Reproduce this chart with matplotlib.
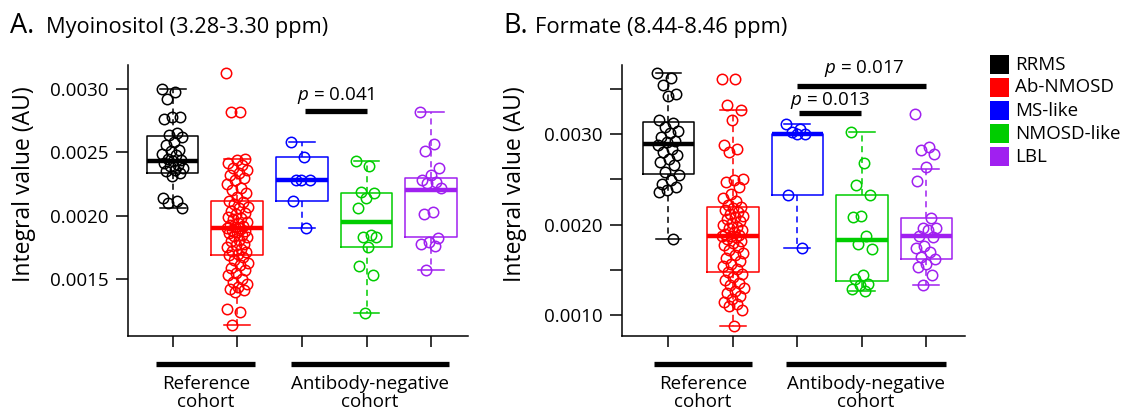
import numpy as np
import matplotlib
matplotlib.use("Agg")
import matplotlib.pyplot as plt
from matplotlib import transforms
from matplotlib.patches import Rectangle

plt.rcParams['font.family'] = ['Open Sans', 'DejaVu Sans']
plt.rcParams['mathtext.fontset'] = 'custom'
plt.rcParams['mathtext.it'] = 'Open Sans:italic'
plt.rcParams['mathtext.rm'] = 'Open Sans'

groups = ["RRMS", "Ab-NMOSD", "MS-like", "NMOSD-like", "LBL"]
colors = ["#000000", "#FF0000", "#0000FF", "#00CD00", "#A020F0"]

# A. myoinositol, points
myo_rrms = [0.00300, 0.00298, 0.00292, 0.00278, 0.00278, 0.00276, 0.00265, 0.00264,
            0.00262, 0.00258, 0.00256, 0.00252, 0.00251, 0.00249, 0.00248, 0.00245,
            0.00244, 0.00243, 0.00242, 0.00240, 0.00239, 0.00238, 0.00236, 0.00235,
            0.00234, 0.00231, 0.00214, 0.00212, 0.00210, 0.00206]
myo_abn = [0.00313, 0.00282, 0.00282, 0.00245, 0.00244, 0.00242, 0.00240, 0.00238,
           0.00236, 0.00234, 0.00232, 0.00230, 0.00228, 0.00225, 0.00222, 0.00220,
           0.00218, 0.00215, 0.00212, 0.00211, 0.00209, 0.00207, 0.00206, 0.00204,
           0.00202, 0.00201, 0.00199, 0.00198, 0.00197, 0.00195, 0.00194, 0.00193,
           0.00192, 0.00191, 0.00190, 0.00190, 0.00189, 0.00188, 0.00187, 0.00186,
           0.00185, 0.00184, 0.00183, 0.00181, 0.00180, 0.00178, 0.00177, 0.00175,
           0.00174, 0.00172, 0.00171, 0.00170, 0.00169, 0.00167, 0.00165, 0.00163,
           0.00161, 0.00159, 0.00157, 0.00155, 0.00153, 0.00150, 0.00148, 0.00146,
           0.00144, 0.00142, 0.00141, 0.00140, 0.00126, 0.00124, 0.00114]
myo_ms = [0.00258, 0.00246, 0.00228, 0.00228, 0.00228, 0.00212, 0.00190]
myo_nmo = [0.00243, 0.00239, 0.00219, 0.00218, 0.00214, 0.00206, 0.00185, 0.00183,
           0.00183, 0.00175, 0.00160, 0.00153, 0.00123]
myo_lbl = [0.00282, 0.00257, 0.00251, 0.00238, 0.00232, 0.00228, 0.00227, 0.00226,
           0.00222, 0.00203, 0.00201, 0.00182, 0.00179, 0.00178, 0.00176, 0.00157]

# A. box stats
myo_med = [0.00243, 0.00190, 0.00228, 0.00195, 0.00220]
myo_q1 = [0.00234, 0.00169, 0.00212, 0.00175, 0.00183]
myo_q3 = [0.00263, 0.00212, 0.00246, 0.00218, 0.00230]
myo_lo = [0.00206, 0.00114, 0.00190, 0.00123, 0.00157]
myo_hi = [0.00300, 0.00245, 0.00258, 0.00243, 0.00282]

# B. formate, points
for_rrms = [0.00368, 0.00362, 0.00354, 0.00344, 0.00342, 0.00316, 0.00312, 0.00308,
            0.00304, 0.00301, 0.00297, 0.00293, 0.00291, 0.00288, 0.00284, 0.00280,
            0.00277, 0.00273, 0.00269, 0.00266, 0.00258, 0.00255, 0.00249, 0.00245,
            0.00242, 0.00238, 0.00236, 0.00184]
for_abn = [0.00361, 0.00361, 0.00332, 0.00327, 0.00316, 0.00288, 0.00284, 0.00280,
           0.00251, 0.00249, 0.00247, 0.00242, 0.00234, 0.00230, 0.00226, 0.00222,
           0.00220, 0.00218, 0.00216, 0.00214, 0.00212, 0.00210, 0.00208, 0.00206,
           0.00204, 0.00202, 0.00200, 0.00198, 0.00196, 0.00194, 0.00192, 0.00190,
           0.00189, 0.00188, 0.00187, 0.00186, 0.00184, 0.00182, 0.00180, 0.00178,
           0.00175, 0.00172, 0.00169, 0.00166, 0.00163, 0.00160, 0.00157, 0.00154,
           0.00151, 0.00148, 0.00145, 0.00142, 0.00139, 0.00136, 0.00133, 0.00130,
           0.00127, 0.00124, 0.00121, 0.00118, 0.00115, 0.00112, 0.00110, 0.00106,
           0.00088]
for_ms = [0.00311, 0.00306, 0.00302, 0.00300, 0.00300, 0.00233, 0.00174]
for_nmo = [0.00303, 0.00268, 0.00244, 0.00233, 0.00210, 0.00209, 0.00188, 0.00179,
           0.00173, 0.00144, 0.00140, 0.00135, 0.00133, 0.00129, 0.00127]
for_lbl = [0.00322, 0.00286, 0.00283, 0.00278, 0.00264, 0.00248, 0.00207, 0.00196,
           0.00196, 0.00194, 0.00188, 0.00186, 0.00177, 0.00174, 0.00170, 0.00164,
           0.00162, 0.00157, 0.00153, 0.00144, 0.00133]

# B. box stats
for_med = [0.00289, 0.00188, 0.00300, 0.00183, 0.00188]
for_q1 = [0.00256, 0.00148, 0.00233, 0.00138, 0.00162]
for_q3 = [0.00314, 0.00220, 0.00300, 0.00233, 0.00207]
for_lo = [0.00184, 0.00088, 0.00174, 0.00127, 0.00133]
for_hi = [0.00368, 0.00327, 0.00311, 0.00303, 0.00262]

W, H = 1127, 415
fig = plt.figure(figsize=(W / 100, H / 100), dpi=100)


def px_axes(x0, x1, y0, y1):
    # pixel box -> figure fractions
    return fig.add_axes([x0 / W, 1 - y1 / H, (x1 - x0) / W, (y1 - y0) / H])


def panel(ax, data, med, q1, q3, lo, hi):
    for i, vals in enumerate(data):
        c = colors[i]
        st = dict(med=med[i], q1=q1[i], q3=q3[i], whislo=lo[i], whishi=hi[i], fliers=[])
        ax.bxp([st], positions=[i + 1], widths=0.8, capwidths=0.4, showfliers=False,
               boxprops=dict(color=c, lw=1.1),
               medianprops=dict(color=c, lw=3.2, solid_capstyle="butt"),
               whiskerprops=dict(color=c, lw=1.1, linestyle=(0, (4, 3))),
               capprops=dict(color=c, lw=1.1))
        n = len(vals)
        jit = ((np.arange(n) * 0.618034) % 1 - 0.5) * 0.34
        ax.plot(i + 1 + jit, vals, "o", mfc="none", mec=c, ms=7.5, mew=1.1, zorder=3)
    for s in ["top", "right"]:
        ax.spines[s].set_visible(False)
    for s in ["left", "bottom"]:
        ax.spines[s].set_linewidth(1.1)
    ax.set_xticks(range(1, 6))
    ax.set_xticklabels([])
    ax.tick_params(axis="x", length=8, width=1.1)
    ax.tick_params(axis="y", length=9, width=1.1, pad=5, labelsize=13.5)
    ax.set_ylabel("Integral value (AU)", fontsize=16.5)


def cohorts(ax, ref_span, ab_span):
    tr = transforms.blended_transform_factory(ax.transData, fig.transFigure)
    yb = 1 - 364 / H
    ax.plot(ref_span, [yb, yb], color="black", lw=3.8, transform=tr, clip_on=False,
            solid_capstyle="butt")
    ax.plot(ab_span, [yb, yb], color="black", lw=3.8, transform=tr, clip_on=False,
            solid_capstyle="butt")
    yt = 1 - 393 / H
    ax.text(sum(ref_span) / 2, yt, "Reference\ncohort", transform=tr, ha="center",
            va="center", fontsize=13.5, linespacing=1.05)
    ax.text(sum(ab_span) / 2, yt, "Antibody-negative\ncohort", transform=tr,
            ha="center", va="center", fontsize=13.5, linespacing=1.05)


# panel A
axA = px_axes(128, 468, 65, 336)
panel(axA, [myo_rrms, myo_abn, myo_ms, myo_nmo, myo_lbl],
      myo_med, myo_q1, myo_q3, myo_lo, myo_hi)
axA.set_xlim(0.31, 5.57)
axA.set_ylim(0.00105, 0.00319)
axA.set_yticks([0.0015, 0.0020, 0.0025, 0.0030])
axA.set_yticklabels(["0.0015", "0.0020", "0.0025", "0.0030"])
axA.yaxis.set_label_coords(-0.272, 0.56)
axA.plot([3.05, 4.0], [0.002823, 0.002823], color="black", lw=3.8, solid_capstyle="butt")
axA.text(3.53, 0.002947, "$p$ = 0.041", ha="center", va="center", fontsize=13.5)
cohorts(axA, [0.75, 2.28], [2.83, 5.28])

# panel B
axB = px_axes(622, 965, 65, 336)
panel(axB, [for_rrms, for_abn, for_ms, for_nmo, for_lbl],
      for_med, for_q1, for_q3, for_lo, for_hi)
axB.set_xlim(0.28, 5.6)
axB.set_ylim(0.00077, 0.003765)
axB.set_yticks([0.0010, 0.0015, 0.0020, 0.0025, 0.0030, 0.0035])
axB.set_yticklabels(["0.0010", "", "0.0020", "", "0.0030", ""])
axB.yaxis.set_label_coords(-0.277, 0.56)
axB.plot([3.02, 3.98], [0.003229, 0.003229], color="black", lw=3.8, solid_capstyle="butt")
axB.text(3.51, 0.003377, "$p$ = 0.013", ha="center", va="center", fontsize=13.5)
axB.plot([2.99, 4.99], [0.003532, 0.003532], color="black", lw=3.8, solid_capstyle="butt")
axB.text(4.04, 0.003728, "$p$ = 0.017", ha="center", va="center", fontsize=13.5)
cohorts(axB, [0.77, 2.3], [2.83, 5.3])

# titles
fig.text(10 / W, 1 - 33 / H, "A.", fontsize=19.5, va="baseline")
fig.text(46 / W, 1 - 33 / H, "Myoinositol (3.28-3.30 ppm)", fontsize=15.7, va="baseline")
fig.text(503 / W, 1 - 33 / H, "B.", fontsize=19.5, va="baseline")
fig.text(535 / W, 1 - 33 / H, "Formate (8.44-8.46 ppm)", fontsize=15.8, va="baseline")

# legend
for k, (g, c) in enumerate(zip(groups, colors)):
    yc = 64.5 + k * 23
    fig.add_artist(Rectangle((990 / W, 1 - (yc + 9.5) / H), 19 / W, 19 / H,
                             transform=fig.transFigure, facecolor=c, edgecolor="none"))
    fig.text(1015 / W, 1 - yc / H, g, fontsize=13.5, va="center")

fig.savefig("out.png", dpi=100)
